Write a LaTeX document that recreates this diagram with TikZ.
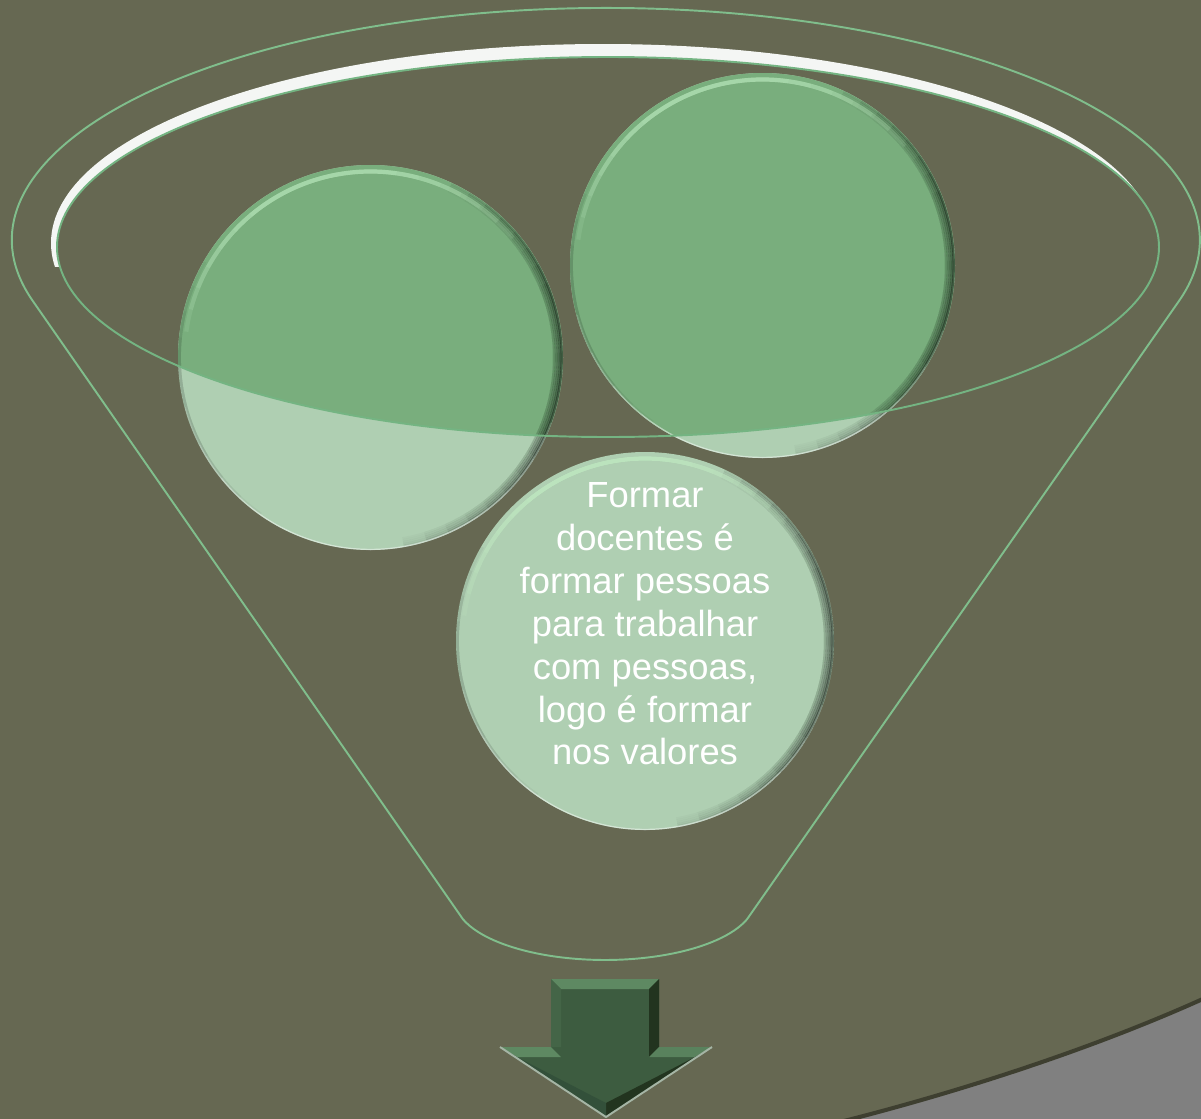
\documentclass[tikz,border=0pt]{standalone}
\usepackage{fontspec}
\setmainfont{Liberation Sans}
\usetikzlibrary{calc}
\definecolor{bg}{HTML}{666852}
\definecolor{greyfill}{HTML}{808080}
\definecolor{greyedge}{HTML}{3E3F30}
\definecolor{funnelline}{HTML}{80BE8C}
\definecolor{ellline}{HTML}{74B482}
\definecolor{darkgreen}{HTML}{79AE7D}
\definecolor{lightgreen}{HTML}{AFCFB2}
\definecolor{arrowfill}{HTML}{3D5C40}
\definecolor{arrowlight}{HTML}{5E8962}
\definecolor{arrowdark}{HTML}{22341F}
\definecolor{arrowmid}{HTML}{33503A}
\definecolor{arrowrim}{HTML}{A5B5A5}
\definecolor{crescent}{HTML}{F4F6F4}
\definecolor{shine}{HTML}{C8F5CA}
\tikzset{
  funnel/.style={draw=funnelline, line width=1.1pt},
  lid/.style={draw=ellline, line width=1.1pt},
  bodytext/.style={text=white, align=center, inner sep=0pt,
    font=\fontsize{20.7}{24.4}\selectfont},
}
\newcommand{\bevelring}[2]{%
  % dark shading on the right side, tapering at both ends
  \foreach \d/\o in {1.2/0.07,3/0.06,5/0.045,7/0.03,9/0.018}{%
    \pgfmathsetmacro\rr{#2-\d}%
    \foreach \i in {0,...,7}{%
      \pgfmathsetmacro\aa{-80+7*\i}%
      \pgfmathsetmacro\bb{65-6*\i}%
      \draw[black,opacity=\o,line width=1.2pt]
        ([shift={(\aa:\rr)}]#1) arc[start angle=\aa,end angle=\bb,radius=\rr];
    }%
  }%
  % faint dark on the left side
  \foreach \i in {0,...,3}{%
    \pgfmathsetmacro\rr{#2-1.5}%
    \pgfmathsetmacro\aa{150+8*\i}%
    \pgfmathsetmacro\bb{235-8*\i}%
    \draw[black,opacity=0.04,line width=1.6pt]
      ([shift={(\aa:\rr)}]#1) arc[start angle=\aa,end angle=\bb,radius=\rr];
  }%
  % light shine near the top edge
  \pgfmathsetmacro\rh{#2-6.5}%
  \foreach \i in {0,...,6}{%
    \pgfmathsetmacro\aa{40+7*\i}%
    \pgfmathsetmacro\bb{172-7*\i}%
    \draw[shine,opacity=0.12,line width=2.4pt]
      ([shift={(\aa:\rh)}]#1) arc[start angle=\aa,end angle=\bb,radius=\rh];
  }%
  % thin light rim at the bottom
  \pgfmathsetmacro\rl{#2-0.6}%
  \foreach \i in {0,...,3}{%
    \pgfmathsetmacro\aa{195+12*\i}%
    \pgfmathsetmacro\bb{340-12*\i}%
    \draw[white,opacity=0.15,line width=0.7pt]
      ([shift={(\aa:\rl)}]#1) arc[start angle=\aa,end angle=\bb,radius=\rl];
  }%
}
\begin{document}
\begin{tikzpicture}[x=0.02cm,y=0.02cm]
\fill[bg] (0,0) rectangle (1201,-1119);
\useasboundingbox (0,0) rectangle (1201,-1119);

% grey corner shape
\fill[greyfill] (840,-1122) .. controls (955,-1093) and (1090,-1050) .. (1205,-998) -- (1205,-1122) -- cycle;
\draw[greyedge, line width=2.3pt] (840,-1122) .. controls (955,-1093) and (1090,-1050) .. (1205,-998);

% white highlight of the lid
\begin{scope}
  \clip (0,0) rectangle (1201,-266);
  \fill[crescent] (603,-243) ellipse[x radius=552, y radius=199];
\end{scope}
\fill[bg] (608,-247) ellipse[x radius=551, y radius=190];

% funnel outline
\draw[funnel] (463,-919.3) -- (32.9,-301.1)
  arc[start angle=195.27, end angle=-15.27, x radius=594, y radius=232]
  -- (747,-919.3)
  arc[start angle=-18.8, end angle=-161.2, x radius=150, y radius=60] -- cycle;

% circle centres
\coordinate (cl) at (370.5,-357.5);
\coordinate (cr) at (762.5,-265.5);
\coordinate (cb) at (645,-641);

% circles, light parts
\fill[lightgreen] (cl) circle[radius=192.5];
\fill[lightgreen] (cr) circle[radius=192.5];
\fill[lightgreen] (cb) circle[radius=189];

% parts inside the lid are darker
\begin{scope}
  \clip (608,-247) ellipse[x radius=551, y radius=190];
  \fill[darkgreen] (cl) circle[radius=192.5];
  \fill[darkgreen] (cr) circle[radius=192.5];
\end{scope}

\bevelring{cl}{192.5}
\bevelring{cr}{192.5}
\bevelring{cb}{189}

% lid ellipse outline
\draw[lid] (608,-247) ellipse[x radius=551, y radius=190];

% text
\node[bodytext] (txt) at (645,-624) {Formar\\docentes é\\formar pessoas\\para trabalhar\\com pessoas,\\logo é formar\\nos valores};

% arrow
\fill[arrowfill] (551,-979) -- (659,-979) -- (659,-1047) -- (712,-1047) -- (606,-1117) -- (500,-1047) -- (551,-1047) -- cycle;
\fill[arrowlight] (551,-979) -- (659,-979) -- (649,-989) -- (561,-989) -- cycle;
\fill[arrowfill!80!arrowlight] (551,-979) -- (561,-989) -- (561,-1047) -- (551,-1047) -- cycle;
\fill[arrowdark] (659,-979) -- (649,-989) -- (649,-1057) -- (659,-1047) -- cycle;
\fill[arrowlight] (500,-1047) -- (551,-1047) -- (561,-1057) -- (517,-1057) -- cycle;
\fill[arrowlight!85!arrowfill] (659,-1047) -- (712,-1047) -- (695,-1057) -- (649,-1057) -- cycle;
\fill[arrowdark] (712,-1047) -- (606,-1117) -- (606,-1103) -- (695,-1057) -- cycle;
\fill[arrowmid] (500,-1047) -- (606,-1117) -- (606,-1103) -- (517,-1057) -- cycle;
\draw[arrowrim, line width=1.1pt] (500,-1047) -- (606,-1117) -- (712,-1047);
\end{tikzpicture}
\end{document}
